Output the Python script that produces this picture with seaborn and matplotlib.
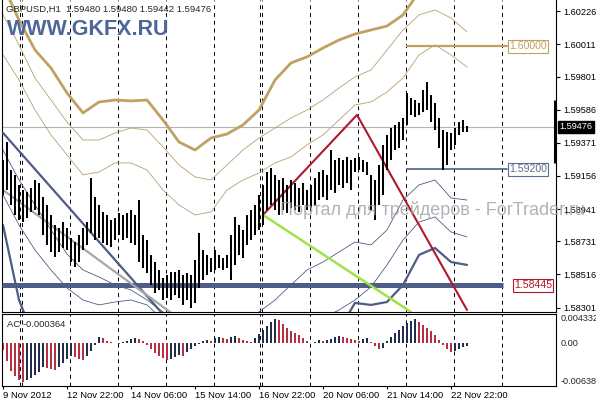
import matplotlib
matplotlib.use("Agg")
import matplotlib.pyplot as plt
import matplotlib.transforms as mtransforms
import seaborn as sns

# GBPUSD H1 bars, one bar every two hours (high / low)
bar_hours = list(range(0, 233, 2))
bar_high = [1.59260, 1.59377, 1.59195, 1.59163, 1.59098, 1.59065, 1.59052, 1.59078, 1.59130, 1.59111,
            1.59020, 1.58968, 1.58903, 1.58838, 1.58818, 1.58857, 1.58818, 1.58753, 1.58727, 1.58773,
            1.58818, 1.58857, 1.59143, 1.59020, 1.58968, 1.58922, 1.58903, 1.58870, 1.58883, 1.58916,
            1.58903, 1.58916, 1.58935, 1.58903, 1.59000, 1.58773, 1.58740, 1.58643, 1.58597, 1.58545,
            1.58493, 1.58513, 1.58532, 1.58532, 1.58545, 1.58513, 1.58526, 1.58513, 1.58610, 1.58786,
            1.58675, 1.58643, 1.58623, 1.58675, 1.58643, 1.58623, 1.58643, 1.58773, 1.58890, 1.58838,
            1.58805, 1.58903, 1.58935, 1.58968, 1.59033, 1.59098, 1.59182, 1.59208, 1.59163, 1.59130,
            1.59143, 1.59098, 1.59130, 1.59111, 1.59078, 1.59111, 1.59065, 1.59098, 1.59143, 1.59182,
            1.59195, 1.59163, 1.59325, 1.59260, 1.59273, 1.59260, 1.59280, 1.59260, 1.59273, 1.59280,
            1.59260, 1.59247, 1.59163, 1.59130, 1.59228, 1.59358, 1.59423, 1.59468, 1.59488, 1.59507,
            1.59533, 1.59696, 1.59663, 1.59650, 1.59631, 1.59715, 1.59767, 1.59683, 1.59631, 1.59533,
            1.59455, 1.59442, 1.59436, 1.59468, 1.59507, 1.59520, 1.59480]
bar_low = [1.59033, 1.59065, 1.58968, 1.58903, 1.58870, 1.58857, 1.58883, 1.58922, 1.58935, 1.58903,
           1.58773, 1.58708, 1.58662, 1.58630, 1.58662, 1.58688, 1.58675, 1.58597, 1.58565, 1.58597,
           1.58675, 1.58708, 1.58786, 1.58740, 1.58753, 1.58721, 1.58708, 1.58695, 1.58740, 1.58773,
           1.58740, 1.58753, 1.58721, 1.58708, 1.58597, 1.58558, 1.58526, 1.58448, 1.58396, 1.58415,
           1.58350, 1.58363, 1.58350, 1.58383, 1.58363, 1.58318, 1.58350, 1.58298, 1.58331, 1.58428,
           1.58480, 1.58513, 1.58532, 1.58545, 1.58558, 1.58545, 1.58558, 1.58480, 1.58578, 1.58643,
           1.58623, 1.58708, 1.58740, 1.58773, 1.58805, 1.58838, 1.58935, 1.58968, 1.58935, 1.58903,
           1.58935, 1.58916, 1.58948, 1.58935, 1.58922, 1.58968, 1.58935, 1.58948, 1.58968, 1.59000,
           1.59020, 1.59000, 1.59065, 1.59046, 1.59098, 1.59078, 1.59111, 1.59065, 1.59182, 1.59195,
           1.59182, 1.59163, 1.58935, 1.58870, 1.58968, 1.59033, 1.59195, 1.59260, 1.59325, 1.59338,
           1.59390, 1.59488, 1.59553, 1.59540, 1.59553, 1.59572, 1.59585, 1.59507, 1.59455, 1.59338,
           1.59195, 1.59228, 1.59325, 1.59358, 1.59423, 1.59442, 1.59442]

# Accelerator Oscillator
ac_values = [-0.00104, -0.00268, -0.00417, -0.00492, -0.00551, -0.00581, -0.00551, -0.00522, -0.00477, -0.00432,
             -0.00358, -0.00373, -0.00387, -0.00402, -0.00358, -0.00298, -0.00238, -0.00194, -0.00209, -0.00238,
             -0.00253, -0.00194, -0.00119, -0.00030, 0.00089, 0.00075, 0.00030, 0.00015, 0.00000, -0.00015,
             0.00015, 0.00030, 0.00060, 0.00075, 0.00060, 0.00030, -0.00030, -0.00089, -0.00149, -0.00194,
             -0.00224, -0.00253, -0.00238, -0.00209, -0.00179, -0.00194, -0.00134, -0.00089, -0.00045, -0.00015,
             0.00030, 0.00045, 0.00030, 0.00075, 0.00089, 0.00075, 0.00060, 0.00089, 0.00104, 0.00075,
             0.00045, 0.00030, 0.00015, 0.00075, 0.00134, 0.00194, 0.00253, 0.00313, 0.00358, 0.00343,
             0.00283, 0.00224, 0.00179, 0.00149, 0.00119, 0.00075, 0.00030, 0.00000, 0.00015, 0.00045,
             0.00030, 0.00045, 0.00060, 0.00089, 0.00104, 0.00089, 0.00075, 0.00060, 0.00045, 0.00030,
             0.00060, 0.00075, 0.00015, -0.00045, -0.00089, -0.00075, 0.00030, 0.00089, 0.00149, 0.00194,
             0.00253, 0.00298, 0.00328, 0.00358, 0.00313, 0.00268, 0.00224, 0.00179, 0.00119, 0.00045,
             -0.00030, -0.00089, -0.00134, -0.00119, -0.00089, -0.00060, -0.000364]

# envelope bands
band_hours = list(range(0, 233, 8))
upper_outer = [1.60398, 1.60170, 1.59975, 1.59858, 1.59696, 1.59566, 1.59637, 1.59650, 1.59644, 1.59650,
               1.59520, 1.59377, 1.59325, 1.59403, 1.59429, 1.59488, 1.59585, 1.59780, 1.59891, 1.59930,
               1.59988, 1.60040, 1.60079, 1.60105, 1.60131, 1.60203, 1.60352, 1.60463, 1.60430, 1.60333]
upper_mid = [1.60203, 1.60008, 1.59793, 1.59650, 1.59507, 1.59390, 1.59390, 1.59436, 1.59468, 1.59455,
             1.59345, 1.59228, 1.59150, 1.59130, 1.59228, 1.59325, 1.59403, 1.59468, 1.59533, 1.59585,
             1.59650, 1.59728, 1.59800, 1.59845, 1.59975, 1.60105, 1.60203, 1.60235, 1.60183, 1.60092]
upper_inner = [1.59943, 1.59780, 1.59585, 1.59423, 1.59293, 1.59163, 1.59182, 1.59241, 1.59241, 1.59195,
               1.59065, 1.58968, 1.58903, 1.58922, 1.59065, 1.59130, 1.59176, 1.59241, 1.59280, 1.59358,
               1.59423, 1.59520, 1.59618, 1.59637, 1.59702, 1.59793, 1.59943, 1.60008, 1.59943, 1.59865]
lower_inner = [1.59325, 1.59130, 1.58968, 1.58805, 1.58649, 1.58545, 1.58500, 1.58448, 1.58415, 1.58350,
               1.58272, 1.58220, 1.58155, 1.58155, 1.58220, 1.58233, 1.58272, 1.58350, 1.58448, 1.58545,
               1.58597, 1.58662, 1.58727, 1.58708, 1.58805, 1.59000, 1.59098, 1.59130, 1.59013, 1.59000]
lower_mid = [1.59033, 1.58838, 1.58675, 1.58545, 1.58428, 1.58350, 1.58318, 1.58337, 1.58350, 1.58318,
             1.58220, 1.58090, 1.58025, 1.58025, 1.58058, 1.58090, 1.58123, 1.58155, 1.58188, 1.58220,
             1.58233, 1.58285, 1.58350, 1.58435, 1.58578, 1.58740, 1.58857, 1.58890, 1.58792, 1.58760]
lower_outer = [1.58838, 1.58350, 1.58090, 1.57960, 1.57830, 1.57765, 1.57733, 1.57765, 1.57765, 1.57733,
               1.57700, 1.57635, 1.57570, 1.57570, 1.57635, 1.57700, 1.57765, 1.57830, 1.57895, 1.57993,
               1.58058, 1.58155, 1.58331, 1.58318, 1.58337, 1.58448, 1.58643, 1.58688, 1.58597, 1.58578]

# trend lines (hour, price)
blue_trend_hours = [0, 90]
blue_trend_prices = [1.59436, 1.58110]
gray_trend_hours = [0, 95]
gray_trend_prices = [1.59065, 1.58163]
red_hours = [130, 177, 232]
red_prices = [1.58903, 1.59553, 1.58285]
green_hours = [130, 204]
green_prices = [1.58903, 1.58272]

level_top = 1.60000
level_mid = 1.59200
level_low = 1.58445
bid = 1.59476
day_range = [1.59240, 1.59650]

price_ticks = [1.60226, 1.60011, 1.59801, 1.59586, 1.59371, 1.59156, 1.58941, 1.58731, 1.58516, 1.58301]
separator_hours = [8.5, 9.5, 33.5, 57.5, 81.5, 105.5, 128.5, 129.5, 153.5, 177.5, 201.5, 225.5, 249.5]
date_hours = [0, 32, 64, 96, 128, 160, 192, 224]
date_labels = ["9 Nov 2012", "12 Nov 22:00", "14 Nov 06:00", "15 Nov 14:00",
               "16 Nov 22:00", "20 Nov 06:00", "21 Nov 14:00", "22 Nov 22:00"]

tan = "#bfa162"
tan_thin = "#b8a070"
slate = "#4d5d86"
red = "#b3172c"

sns.set_theme(style="white")
plt.rcParams['font.family'] = ['Liberation Sans', 'DejaVu Sans']

W, H = 596, 400
fig = plt.figure(figsize=(W / 100, H / 100), dpi=100)
ax = fig.add_axes([2 / W, 88 / H, 554 / W, 312 / H])
ax_ac = fig.add_axes([2 / W, 14 / H, 554 / W, 72 / H])

# watermark behind the chart
fig.text(280 / W, 1 - 215 / H, "Портал для трейдеров - ForTrader.ru", fontsize=13, color="#a0a0a0",
         alpha=0.8, va="baseline", ha="left", zorder=0)
ax.set_facecolor("none")

for a in (ax, ax_ac):
    a.set_xlim(-0.5, 276.5)
    for s in a.spines.values():
        s.set_color("black")
        s.set_linewidth(0.8)
    for h in separator_hours:
        a.axvline(h, color="black", lw=0.7, ls=(0, (4, 4)), zorder=1)
ax.spines["top"].set_visible(False)
ax.set_ylim(1.58272, 1.60300)

# bands
sns.lineplot(x=band_hours, y=upper_outer, ax=ax, color=tan, lw=2.0, zorder=2)
sns.lineplot(x=band_hours, y=upper_mid, ax=ax, color=tan_thin, lw=0.6, zorder=2)
sns.lineplot(x=band_hours, y=upper_inner, ax=ax, color=tan_thin, lw=0.6, zorder=2)
sns.lineplot(x=band_hours, y=lower_inner, ax=ax, color=slate, lw=0.6, zorder=2)
sns.lineplot(x=band_hours, y=lower_mid, ax=ax, color=slate, lw=0.6, zorder=2)
sns.lineplot(x=band_hours, y=lower_outer, ax=ax, color=slate, lw=1.6, zorder=2)

# bid line
ax.axhline(bid, color="#b4b4b4", lw=0.8, zorder=1)

# horizontal levels
ax.plot([-0.5, 250], [level_low, level_low], color=slate, lw=3.6, solid_capstyle="butt", zorder=3)
ax.plot([202, 252], [level_top, level_top], color=tan, lw=1.6, zorder=3)
ax.plot([202, 252], [level_mid, level_mid], color="#5a6d8e", lw=1.3, zorder=3)

# trend lines
sns.lineplot(x=blue_trend_hours, y=blue_trend_prices, ax=ax, color=slate, lw=1.6, zorder=3)
sns.lineplot(x=gray_trend_hours, y=gray_trend_prices, ax=ax, color="#a6a6a6", lw=1.6, zorder=3)
ax.plot(red_hours, red_prices, color=red, lw=1.5, zorder=3)
sns.lineplot(x=green_hours, y=green_prices, ax=ax, color="#9ee34a", lw=1.8, zorder=3)

# price bars
ax.vlines(bar_hours, bar_low, bar_high, color="black", lw=1.45, zorder=4)

# price scale
ax.yaxis.tick_right()
ax.set_yticks(price_ticks)
ax.set_yticklabels([f"{p:.5f}" for p in price_ticks])
ax.tick_params(axis="y", right=True, left=False, length=3, width=0.8, color="black",
               labelsize=6.6, pad=2, labelcolor="black")
ax.set_xticks([])
ax.set_xlabel("")
ax.set_ylabel("")

tr = mtransforms.blended_transform_factory(ax.transAxes, ax.transData)
ax.text(1.006, bid, "1.59476", transform=tr, color="white", fontsize=6.6, va="center", ha="left",
        bbox=dict(facecolor="black", edgecolor="black", pad=1.2), zorder=6, clip_on=False)
ax.vlines(276, day_range[0], day_range[1], color="black", lw=2.2, zorder=5)

ax.text(253, level_top, "1.60000", color=tan, fontsize=7.6, va="center", ha="left",
        bbox=dict(facecolor="white", edgecolor=tan, lw=0.8, pad=1.0), zorder=6)
ax.text(253, level_mid, "1.59200", color="#5a6d8e", fontsize=7.6, va="center", ha="left",
        bbox=dict(facecolor="white", edgecolor="#5a6d8e", lw=0.8, pad=1.0), zorder=6)
ax.text(255.5, level_low, "1.58445", color=red, fontsize=7.6, va="center", ha="left",
        bbox=dict(facecolor="white", edgecolor=red, lw=0.8, pad=1.0), zorder=6)

# AC histogram
ac_colors = ["#b52a3e"] + ["#1c2848" if ac_values[i] > ac_values[i - 1] else "#b52a3e"
                           for i in range(1, len(ac_values))]
ax_ac.vlines(bar_hours, 0, ac_values, colors=ac_colors, lw=1.4)
ax_ac.set_ylim(-0.00638, 0.004332)
ax_ac.set_yticks([])
ax_ac.set_xticks(date_hours)
ax_ac.set_xticklabels(date_labels, ha="left")
ax_ac.tick_params(axis="x", bottom=True, length=2, width=0.8, color="black", labelsize=6.8, pad=1.5,
                  labelcolor="black")
tr_ac = mtransforms.blended_transform_factory(ax_ac.transAxes, ax_ac.transData)
ax_ac.text(1.008, 0.004332, "0.004332", transform=tr_ac, fontsize=6.6, va="top", ha="left", clip_on=False)
ax_ac.text(1.008, 0.0, "0.00", transform=tr_ac, fontsize=6.6, va="center", ha="left", clip_on=False)
ax_ac.text(1.008, -0.00638, "-0.006380", transform=tr_ac, fontsize=6.6, va="bottom", ha="left", clip_on=False)
ax_ac.text(0.009, 0.86, "AC -0.000364", transform=ax_ac.transAxes, fontsize=6.8, va="center", ha="left")

# header and logo
fig.text(6 / W, 1 - 9 / H, "GBPUSD,H1  1.59480 1.59480 1.59442 1.59476", fontsize=6.8, va="center", ha="left")
fig.text(7 / W, 1 - 35 / H, "WWW.GKFX.RU", fontsize=15.5, fontweight="bold", color="#4e6699",
         va="baseline", ha="left")

fig.savefig("out.png", dpi=100)
